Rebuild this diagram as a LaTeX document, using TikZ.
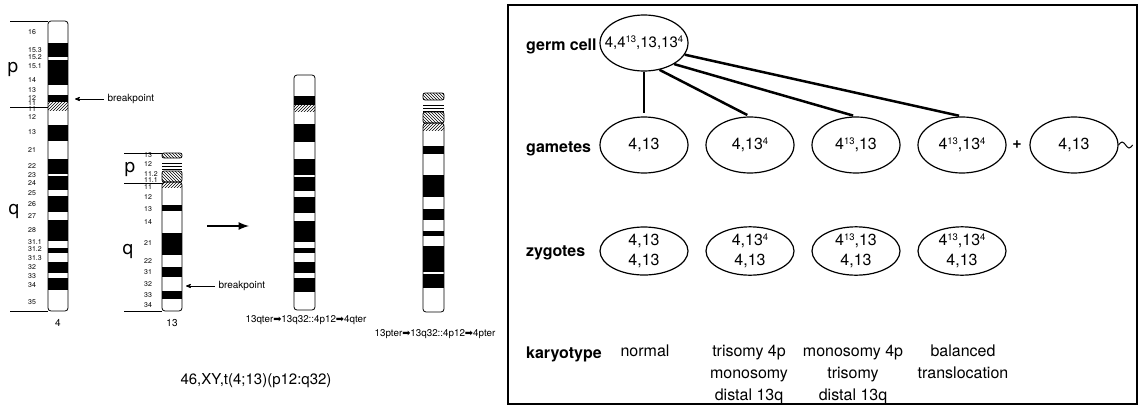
\documentclass[tikz,border=0pt]{standalone}
\usepackage{fontspec}
\setmainfont{TeX Gyre Heros}
\newfontfamily\symfont{DejaVu Sans}
\usetikzlibrary{arrows}
\usetikzlibrary{positioning}
\usetikzlibrary{patterns}
\usetikzlibrary{shapes.geometric}

\newcommand{\toarrow}{{\symfont ➡}}
\newcommand{\upidx}[1]{\raisebox{0.32em}{\fontsize{9.5}{10}\selectfont #1}}

\begin{document}
\begin{tikzpicture}[x=1pt,y=-1pt,>=stealth',node distance=106pt,
                    cell node/.style={ellipse,draw,line width=1.2pt,minimum width=88pt,minimum height=56pt,
                                      inner sep=0pt,align=center,font=\fontsize{16}{20}\selectfont},
                    zygote node/.style={cell node,minimum height=48pt},
                    row label/.style={anchor=base west,inner sep=0pt,font=\fontsize{16}{19}\selectfont\bfseries},
                    karyo text/.style={anchor=north,inner sep=0pt,align=center,font=\fontsize{16}{22}\selectfont},
                    band label/.style={anchor=west,inner sep=0pt,font=\fontsize{7}{8}\selectfont},
                    arm label/.style={inner sep=0pt,font=\fontsize{19}{22}\selectfont},
                    small text/.style={font=\fontsize{10}{12}\selectfont},
                    der label/.style={font=\fontsize{9.8}{11}\selectfont},
                    chrom/.style={line width=0.8pt,rounded corners=3pt},
                    connector/.style={-,line width=2.5pt,shorten >=3pt}]

  \useasboundingbox (0,0) rectangle (1144,410);

  % chromosome 4
  \foreach \t/\b in {43/57,60/85,95/102,125/141,159/174,176/190,196/212,220/241,248/253,262/273,278/290}
    \fill (48,\t) rectangle (68,\b);
  \fill[pattern=north east lines] (48,102) rectangle (68,110);
  \draw[chrom] (48,21) rectangle (68,311);
  \draw[line width=0.8pt] (10,21) -- (48,21) (10,107) -- (48,107) (10,311) -- (48,311);

  \foreach \y/\t [count=\i] in {32/16,50/15.3,57/15.2,66/15.1,80/14,90/13,98/12,103/11,109/11,117/12,132/13,
                                150/21,166/22,175/23,183/24,193/25,204/26,216/27,230/28,242/31.1,249/31.2,
                                258/31.3,267/32,276/33,285/34,302/35}
    \node[band label] (a\i) at (28,\y) {\t};

  \node[arm label] (p4) at (13,69) {p};
  \node[arm label] (q4) at (14,211) {q};
  \node[small text] (n4) at (58,323) {4};

  \node[small text,anchor=west] (bp4) at (104,99) {breakpoint};
  \coordinate (c4bp) at (75,99);
  \draw[->,line width=0.8pt] (bp4.west) -- (c4bp);

  % chromosome 13
  \draw[chrom,rounded corners=2pt,pattern=north west lines] (162,153) rectangle (182,158);
  \foreach \y in {163,166,169}
    \draw[line width=0.8pt] (162,\y) -- (182,\y);
  \draw[chrom,rounded corners=2pt,pattern=north west lines] (162,171) rectangle (182,182);
  \foreach \t/\b in {205/211,233/255,267/277,291/299}
    \fill (162,\t) rectangle (182,\b);
  \fill[pattern=north east lines] (162,182) rectangle (182,187);
  \draw[chrom] (162,182) rectangle (182,311);
  \draw[line width=0.8pt] (124,153) -- (162,153) (124,183) -- (162,183) (124,311) -- (162,311);

  \foreach \y/\t [count=\i] in {155/13,164/12,174/11.2,180/11.1,187/11,197/12,209/13,222/14,243/21,
                                261/22,272/31,284/32,295/33,305/34}
    \node[band label] (b\i) at (144,\y) {\t};

  \node[arm label] (p13) at (130,169) {p};
  \node[arm label] (q13) at (128,251) {q};
  \node[small text] (n13) at (172,323) {13};

  \node[small text,anchor=west] (bp13) at (215,286) {breakpoint};
  \coordinate (c13bp) at (186,286);
  \draw[->,line width=0.8pt] (bp13.west) -- (c13bp);

  \coordinate (ta) at (207,226);
  \coordinate (tb) at (249,226);
  \draw[-latex,line width=2.5pt] (ta) -- (tb);

  % derivative 4
  \foreach \t/\b in {96/105,124/142,159/175,177/191,197/213,221/242,248/253,262/273,278/292}
    \fill (294,\t) rectangle (315,\b);
  \fill[pattern=north east lines] (294,105) rectangle (315,111);
  \draw[chrom] (294,75) rectangle (315,310);
  \node[der label] (d4) at (306,320) {13qter\toarrow13q32::4p12\toarrow4qter};

  % derivative 13
  \draw[chrom,rounded corners=2pt,pattern=north west lines] (423,93) rectangle (444,100);
  \foreach \y in {105,108,111}
    \draw[line width=0.8pt] (423,\y) -- (444,\y);
  \draw[chrom,rounded corners=2pt,pattern=north west lines] (423,112) rectangle (444,123);
  \foreach \t/\b in {146/154,175/197,209/220,231/236,246/272,274/288}
    \fill (423,\t) rectangle (444,\b);
  \fill[pattern=north east lines] (423,123) rectangle (444,130);
  \draw[chrom] (423,123) rectangle (444,312);
  \node[der label] (d13) at (435,334) {13pter\toarrow13q32::4p12\toarrow4pter};

  \node[font=\fontsize{15}{18}\selectfont] (kt) at (256,381) {46,XY,t(4;13)(p12:q32)};

  % segregation panel
  \draw[line width=2pt] (508,5) rectangle (1137,404);

  \node[row label] (lgerm) at (526,50) {germ cell};
  \node[row label] (lgam) at (526,152) {gametes};
  \node[row label] (lzyg) at (526,256) {zygotes};
  \node[row label] (lkar) at (526,358) {karyotype};

  \node[cell node,font=\fontsize{15}{18}\selectfont] (germ) at (644,43)
    {\makebox[0pt]{4,4\upidx{13},13,13\upidx{4}}};

  \node[cell node] (g1) at (644,145) {4,13};
  \node[cell node] (g2) [right of=g1] {4,13\upidx{4}};
  \node[cell node] (g3) [right of=g2] {4\upidx{13},13};
  \node[cell node] (g4) [right of=g3] {4\upidx{13},13\upidx{4}};
  \node[font=\fontsize{16}{19}\selectfont\bfseries] (plus) at (1017,145) {+};
  \node[cell node] (g5) [right of=g4, node distance=112pt] {4,13};

  \node[zygote node] (z1) [below of=g1] {4,13\\4,13};
  \node[zygote node] (z2) [right of=z1] {4,13\upidx{4}\\4,13};
  \node[zygote node] (z3) [right of=z2] {4\upidx{13},13\\4,13};
  \node[zygote node] (z4) [right of=z3] {4\upidx{13},13\upidx{4}\\4,13};

  \node[karyo text] (k1) at (645,345) {normal};
  \node[karyo text] (k2) at (749,345) {trisomy 4p\\monosomy\\distal 13q};
  \node[karyo text] (k3) at (853,345) {monosomy 4p\\trisomy\\distal 13q};
  \node[karyo text] (k4) at (963,345) {balanced\\translocation};

  \draw[connector]
  	(germ.south) edge (g1.north)
  	(germ.-60) edge (g2.north)
  	(germ.-35) edge (g3.north)
  	(germ.-16) edge (g4.north)
  	;

  \draw[line width=1pt] (g5.east) sin ++(3.5,-3) cos ++(3.5,3) sin ++(3.5,3) cos ++(3.5,-3);
\end{tikzpicture}
\end{document}
